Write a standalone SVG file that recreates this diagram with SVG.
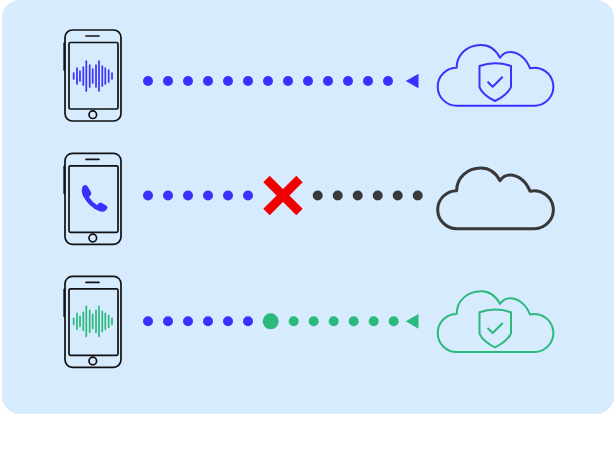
<svg xmlns="http://www.w3.org/2000/svg" xmlns:xlink="http://www.w3.org/1999/xlink" width="616" height="472" viewBox="0 0 616 472">
<style>
.ph{fill:none;stroke:#111;stroke-width:1.7}
.b{fill:#3b31ff}.g{fill:#2bb97c}.d{fill:#383838}
.wave{stroke-width:1.7;stroke-linecap:round;fill:none}
.cl{fill:none;stroke-width:2;stroke-linejoin:round}
</style>
<defs>
<g id="phone">
<rect class="ph" x="65" y="30" width="56" height="91" rx="7.500"/>
<rect class="ph" x="69" y="42.500" width="49" height="66.500" rx="1.500"/>
<path class="ph" d="M86 36H99M64.200 43V70" stroke-linecap="round"/>
<circle class="ph" cx="92.800" cy="114.700" r="3.800"/>
</g>
<path id="wave" d="M73.700 -3V3M77 -8V8M80 -5V5M83.300 -9V9M86.300 -15V15M89.700 -11V11M92.700 -7V7M96 -11V11M99 -15V15M102.300 -10V10M105.300 -8V8M108.700 -6V6M112 -3V3"/>
<path id="cloud" d="M456.700 105.700H534.300A19 19 0 1 0 530 68.200C526 58 518 52 510 52C506 52 502.500 54 500 57.700C496 50 489 45 481 45C467 45 456.500 55 456.700 67.700A19 19 0 0 0 456.700 105.700Z"/>
<g id="shield">
<path d="M479.500 66Q495 60.500 511 66V87C509 92 502 98 495 101C488 98 481 92 479.500 87Z"/>
<path d="M487.500 81.700L492.700 86.700L502.700 76.700"/>
</g>
</defs>
<rect id="panel" x="2" y="0" width="612" height="414" rx="18" fill="#d7ebff"/>

<g id="phone-1">
<use href="#phone"/>
<use href="#wave" class="wave" stroke="#3b31ff" transform="translate(0,76)"/>
</g>
<g id="phone-2">
<use href="#phone" transform="translate(0,123.300)"/>
<path class="b" d="M83 186L85 185Q87 185 88 187L91 192Q92 194 90 196L89 197Q92 202 97 205L99 203Q100.500 202 102 203L107 206Q108 207.500 107 209L105 211Q103 212.500 99 211Q89 207 83 196Q80.500 190 83 186Z"/>
</g>
<g id="phone-3">
<use href="#phone" transform="translate(0,246.300)"/>
<use href="#wave" class="wave" stroke="#2bb97c" transform="translate(0,321.300)"/>
</g>

<g id="cloud-1" class="cl" stroke="#3b31ff">
<use href="#cloud"/>
<use href="#shield"/>
</g>
<g id="cloud-2" class="cl" stroke="#383838" style="stroke-width:3">
<use href="#cloud" transform="translate(0,123)"/>
</g>
<g id="cloud-3" class="cl" stroke="#2bb97c">
<use href="#cloud" transform="translate(0,246.300)"/>
<use href="#shield" transform="translate(0,246.300)"/>
</g>

<g id="connectors">
<g class="b">
<circle cx="148" cy="81" r="5"/><circle cx="168" cy="81" r="5"/><circle cx="188" cy="81" r="5"/><circle cx="208" cy="81" r="5"/><circle cx="228" cy="81" r="5"/><circle cx="248" cy="81" r="5"/><circle cx="268" cy="81" r="5"/><circle cx="288" cy="81" r="5"/><circle cx="308" cy="81" r="5"/><circle cx="328" cy="81" r="5"/><circle cx="348" cy="81" r="5"/><circle cx="368" cy="81" r="5"/><circle cx="388" cy="81" r="5"/>
<path d="M405.700 81L418.500 73.800V88.200Z"/>
<circle cx="148" cy="195.500" r="5"/><circle cx="168" cy="195.500" r="5"/><circle cx="188" cy="195.500" r="5"/><circle cx="208" cy="195.500" r="5"/><circle cx="228" cy="195.500" r="5"/><circle cx="248" cy="195.500" r="5"/>
<circle cx="148" cy="321.300" r="5"/><circle cx="168" cy="321.300" r="5"/><circle cx="188" cy="321.300" r="5"/><circle cx="208" cy="321.300" r="5"/><circle cx="228" cy="321.300" r="5"/><circle cx="248" cy="321.300" r="5"/>
</g>
<path d="M266.500 179L299.500 212M299.500 179L266.500 212" stroke="#f00000" stroke-width="9" fill="none"/>
<g class="d">
<circle cx="317.700" cy="195.500" r="5"/><circle cx="337.700" cy="195.500" r="5"/><circle cx="357.700" cy="195.500" r="5"/><circle cx="377.700" cy="195.500" r="5"/><circle cx="397.700" cy="195.500" r="5"/><circle cx="417.700" cy="195.500" r="5"/>
</g>
<g class="g">
<circle cx="270.700" cy="321.300" r="8"/>
<circle cx="293.700" cy="321.300" r="5"/><circle cx="313.700" cy="321.300" r="5"/><circle cx="333.700" cy="321.300" r="5"/><circle cx="353.700" cy="321.300" r="5"/><circle cx="373.700" cy="321.300" r="5"/><circle cx="393.700" cy="321.300" r="5"/>
<path d="M405.700 321.300L418.500 314V328.700Z"/>
</g>
</g>
</svg>
